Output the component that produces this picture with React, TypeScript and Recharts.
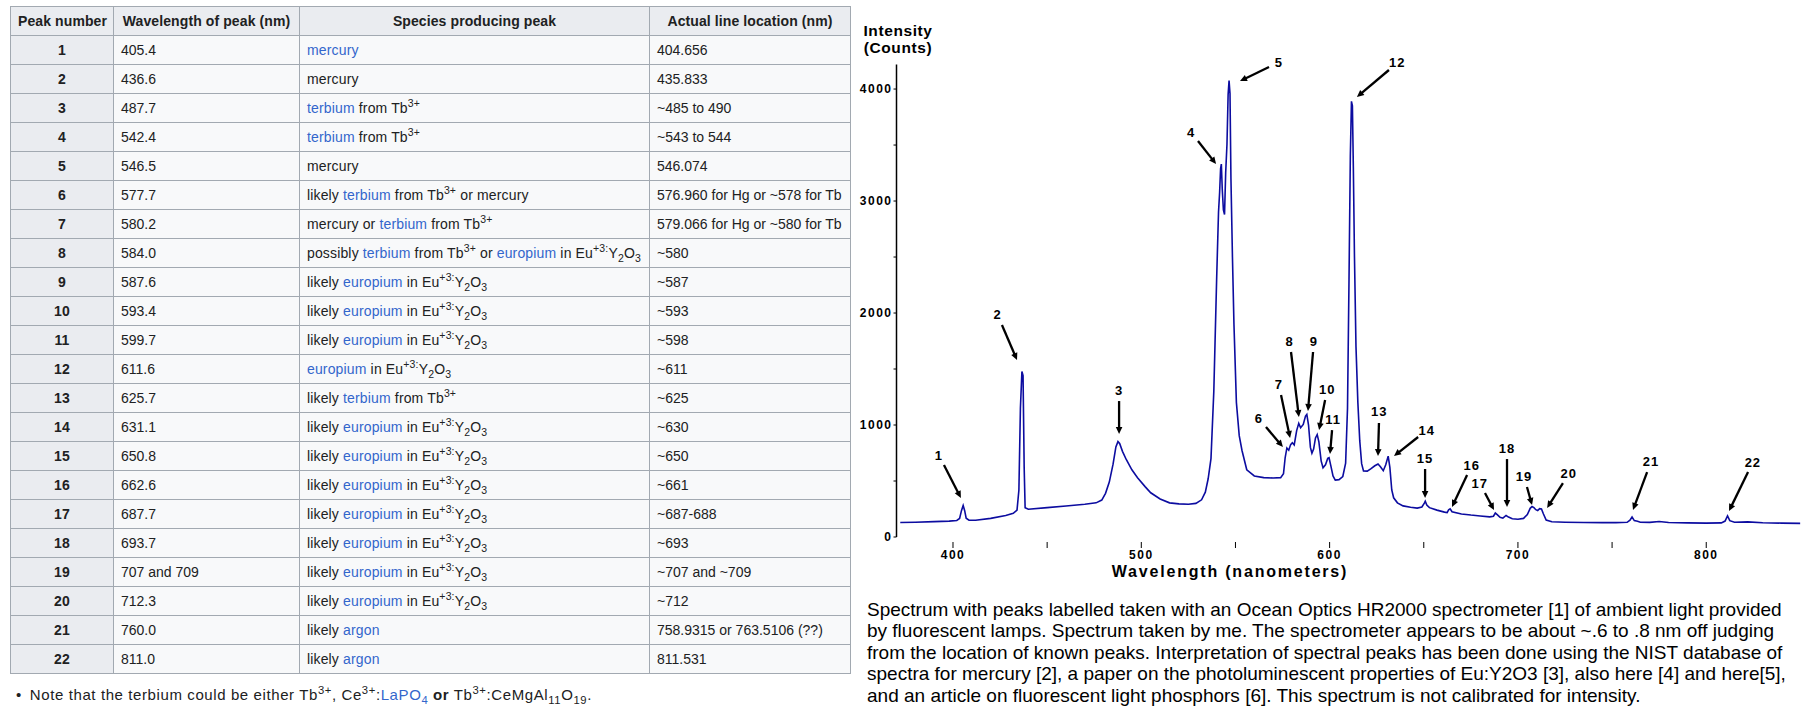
import React from "react";
import { LineChart, Line, XAxis, YAxis, ReferenceLine } from "recharts";

// spectrum (nm, counts)
const wavelengths = [
  372, 380, 390, 398, 402, 403.5, 404.5, 405.4, 406.2, 407, 408.5, 412, 420, 428, 432, 434,
  435, 435.8, 436.6, 437.2, 437.8, 438.3, 440, 450, 460, 470, 476, 479, 481, 483, 485, 486.5,
  487.6, 488.5, 490, 492, 495, 498, 502, 505, 510, 515, 520, 525, 529, 532, 534, 535.5,
  537, 538.5, 540, 541, 541.6, 542.1, 542.5, 543, 543.6, 544.2, 544.8, 545.5, 546.1, 546.6,
  547.1, 547.6, 548.4, 549.2, 550.5, 552, 553.5, 556, 560, 565, 570, 574, 575.5, 576.4,
  577.3, 578.3, 579.3, 580.2, 581.2, 582.5, 583.6, 584.6, 586, 587.2, 587.9, 588.8, 589.8, 590.6,
  591.5, 592.5, 593.4, 594.3, 595.5, 596.5, 597.8, 599, 599.7, 600.6, 601.8, 603, 605, 607,
  608.5, 609.5, 610.3, 611, 611.6, 612.1, 612.6, 613.2, 614, 615, 616, 617, 618, 620,
  622, 624, 625.7, 627, 628.5, 629.8, 631.1, 632, 633, 634, 636, 639, 643, 646.5,
  649, 650.3, 650.8, 651.6, 653, 657, 661, 662.4, 663.2, 664, 665, 670, 675, 680,
  685, 687, 688, 689, 690.5, 692, 693.7, 695, 697, 700, 703, 705, 706.5, 707.5,
  708.5, 709.5, 710.5, 711.5, 712.5, 713.5, 715, 718, 725, 735, 745, 752, 758, 759.5,
  760.6, 761.8, 763.5, 765, 770, 775, 780, 790, 800, 808, 810, 811.3, 812.5, 815,
  822, 830, 840, 850,
];
const intensities = [
  130, 132, 137, 142, 148, 165, 235, 282, 235, 168, 150, 150, 166, 192, 212, 240,
  420, 1150, 1478, 1440, 620, 262, 248, 262, 277, 292, 305, 330, 390, 490, 650, 805,
  852, 835, 765, 692, 600, 530, 450, 395, 340, 305, 296, 293, 300, 332, 400, 520,
  700, 1300, 2300, 2900, 3080, 3290, 3330, 3100, 2920, 2880, 3250, 3510, 3950, 4075,
  3960, 3200, 2500, 1900, 1200, 905, 770, 600, 545, 530, 527, 530, 565, 710,
  795, 775, 825, 842, 822, 950, 1015, 975, 1005, 1080, 1095, 1000, 800, 748,
  785, 885, 915, 850, 680, 618, 645, 702, 708, 640, 545, 508, 512, 540,
  660, 1150, 2300, 3400, 3890, 3850, 3300, 2500, 1700, 1200, 860, 655, 590, 588,
  610, 636, 652, 628, 592, 645, 722, 622, 420, 350, 305, 278, 265, 258,
  268, 302, 320, 286, 262, 240, 222, 218, 242, 252, 226, 206, 196, 188,
  180, 186, 214, 200, 176, 168, 192, 178, 163, 158, 166, 200, 256, 272,
  262, 244, 236, 253, 250, 208, 152, 136, 132, 130, 128, 128, 131, 150,
  178, 146, 140, 132, 131, 138, 130, 126, 124, 126, 142, 188, 146, 132,
  135, 127, 124, 122,
];

const xTicks = [400, 450, 500, 550, 600, 650, 700, 750, 800];
const xLabelTicks = [400, 500, 600, 700, 800];
const yTicks = [0, 500, 1000, 1500, 2000, 2500, 3000, 3500, 4000];
const yLabelTicks = [0, 1000, 2000, 3000, 4000];

// peak annotations: arrow tail and tip in (nm, counts)
const peakNames = [
  "1", "2", "3", "4", "5", "6", "7", "8", "9", "10", "11",
  "12", "13", "14", "15", "16", "17", "18", "19", "20", "21", "22",
];
const arrowTail = [
  [395.2, 643], [426.0, 1893], [488.2, 1214], [530.1, 3536], [567.8, 4196], [566.2, 982],
  [574.2, 1268], [579.5, 1652], [591.2, 1652], [597.6, 1223], [601.3, 955], [631.5, 4170],
  [626.2, 1018], [647.0, 893], [650.7, 607], [673.0, 554], [682.5, 393], [694.2, 696],
  [704.8, 446], [723.9, 482], [768.6, 580], [822.2, 580],
];
const arrowTip = [
  [404.2, 348], [434.0, 1580], [488.2, 920], [539.7, 3330], [552.4, 4071], [575.2, 804],
  [579.0, 884], [583.7, 1071], [588.5, 1125], [594.4, 955], [600.2, 741], [614.5, 3929],
  [625.7, 723], [634.2, 723], [650.7, 348], [665.0, 268], [687.3, 241], [694.2, 268],
  [707.5, 286], [715.5, 259], [761.1, 241], [812.1, 232],
];

// table
const tableHeaders = [
  "Peak number",
  "Wavelength of peak (nm)",
  "Species producing peak",
  "Actual line location (nm)",
];
const peakWavelengths = [
  "405.4", "436.6", "487.7", "542.4", "546.5", "577.7", "580.2", "584.0", "587.6", "593.4", "599.7",
  "611.6", "625.7", "631.1", "650.8", "662.6", "687.7", "693.7", "707 and 709", "712.3", "760.0", "811.0",
];
const EU = "[europium] in Eu^{+3:}Y_{2}O_{3}";
const species = [
  "[mercury]",
  "mercury",
  "[terbium] from Tb^{3+}",
  "[terbium] from Tb^{3+}",
  "mercury",
  "likely [terbium] from Tb^{3+} or mercury",
  "mercury or [terbium] from Tb^{3+}",
  "possibly [terbium] from Tb^{3+} or " + EU,
  "likely " + EU,
  "likely " + EU,
  "likely " + EU,
  EU,
  "likely [terbium] from Tb^{3+}",
  "likely " + EU,
  "likely " + EU,
  "likely " + EU,
  "likely " + EU,
  "likely " + EU,
  "likely " + EU,
  "likely " + EU,
  "likely [argon]",
  "likely [argon]",
];
const actualLines = [
  "404.656", "435.833", "~485 to 490", "~543 to 544", "546.074",
  "576.960 for Hg or ~578 for Tb", "579.066 for Hg or ~580 for Tb", "~580", "~587", "~593", "~598",
  "~611", "~625", "~630", "~650", "~661", "~687-688", "~693", "~707 and ~709", "~712",
  "758.9315 or 763.5106 (??)", "811.531",
];
const footnote =
  "Note that the terbium could be either Tb^{3+}, Ce^{3+}:[LaPO_{4}] *or* Tb^{3+}:CeMgAl_{11}O_{19}.";

const captionLines = [
  "Spectrum with peaks labelled taken with an Ocean Optics HR2000 spectrometer [1] of ambient light provided",
  "by fluorescent lamps. Spectrum taken by me. The spectrometer appears to be about ~.6 to .8 nm off judging",
  "from the location of known peaks. Interpretation of spectral peaks has been done using the NIST database of",
  "spectra for mercury [2], a paper on the photoluminescent properties of Eu:Y2O3 [3], also here [4] and here[5],",
  "and an article on fluorescent light phosphors [6]. This spectrum is not calibrated for intensity.",
];

const spectrum = wavelengths.map((wl, i) => ({ wl, intensity: intensities[i] }));

const SANS = '"Liberation Sans", Arial, sans-serif';
const LINK = "#3366cc";
const supStyle: React.CSSProperties = { fontSize: "75%", lineHeight: 0, verticalAlign: "super" };
const subStyle: React.CSSProperties = { fontSize: "75%", lineHeight: 0, verticalAlign: "sub" };

let keyCounter = 0;
function rich(s: string): React.ReactNode[] {
  const out: React.ReactNode[] = [];
  let buf = "";
  let i = 0;
  const flush = () => {
    if (buf) {
      out.push(buf);
      buf = "";
    }
  };
  while (i < s.length) {
    const c = s[i];
    if ((c === "^" || c === "_") && s[i + 1] === "{") {
      const end = s.indexOf("}", i);
      flush();
      const inner = s.slice(i + 2, end);
      out.push(
        c === "^" ? (
          <sup key={keyCounter++} style={supStyle}>{inner}</sup>
        ) : (
          <sub key={keyCounter++} style={subStyle}>{inner}</sub>
        )
      );
      i = end + 1;
    } else if (c === "[") {
      const end = s.indexOf("]", i);
      flush();
      out.push(
        <span key={keyCounter++} style={{ color: LINK }}>
          {rich(s.slice(i + 1, end))}
        </span>
      );
      i = end + 1;
    } else if (c === "*") {
      const end = s.indexOf("*", i + 1);
      flush();
      out.push(<b key={keyCounter++}>{s.slice(i + 1, end)}</b>);
      i = end + 1;
    } else {
      buf += c;
      i++;
    }
  }
  flush();
  return out;
}

const colWidths = [103, 186, 350, 201];

const cell: React.CSSProperties = {
  border: "1px solid #a2a9b1",
  padding: "0 7px",
  height: 29,
  whiteSpace: "nowrap",
  fontSize: 14,
  color: "#202122",
  background: "#f8f9fa",
  boxSizing: "border-box",
};
const speciesCell: React.CSSProperties = { ...cell, letterSpacing: 0.15 };
const headCell: React.CSSProperties = {
  ...cell,
  letterSpacing: 0.1,
  background: "#eaecf0",
  fontWeight: "bold",
  textAlign: "center",
};

function PeakTable() {
  return (
    <table
      style={{
        position: "absolute",
        left: 10,
        top: 6,
        borderCollapse: "collapse",
        tableLayout: "fixed",
        fontFamily: SANS,
        width: 840,
      }}
    >
      <colgroup>
        {colWidths.map((w, i) => (
          <col key={i} style={{ width: w }} />
        ))}
      </colgroup>
      <thead>
        <tr>
          {tableHeaders.map((h) => (
            <th key={h} style={headCell}>{h}</th>
          ))}
        </tr>
      </thead>
      <tbody>
        {peakNames.map((n, i) => (
          <tr key={n}>
            <th style={headCell}>{n}</th>
            <td style={cell}>{peakWavelengths[i]}</td>
            <td style={speciesCell}>{rich(species[i])}</td>
            <td style={cell}>{actualLines[i]}</td>
          </tr>
        ))}
      </tbody>
    </table>
  );
}

const chartFont = { fontFamily: SANS, fontWeight: "bold" as const, fill: "#000" };

function Arrow(props: any) {
  const { x1, y1, x2, y2, text } = props;
  const dx = x2 - x1;
  const dy = y2 - y1;
  const len = Math.hypot(dx, dy) || 1;
  const ux = dx / len;
  const uy = dy / len;
  const head = 7;
  const half = 3.3;
  const bx = x2 - ux * head;
  const by = y2 - uy * head;
  const pts = `${x2},${y2} ${bx - uy * half},${by + ux * half} ${bx + uy * half},${by - ux * half}`;
  return (
    <g>
      <line x1={x1} y1={y1} x2={bx + ux} y2={by + uy} stroke="#000" strokeWidth={2.3} />
      <polygon points={pts} fill="#000" />
      <text
        x={x1 - ux * 11}
        y={y1 - uy * 11}
        textAnchor="middle"
        dominantBaseline="central"
        fontSize={13}
        letterSpacing={1}
        {...chartFont}
      >
        {text}
      </text>
    </g>
  );
}

function XTick(props: any) {
  const { x, y, payload } = props;
  const v = payload.value;
  return (
    <g>
      <line x1={x} x2={x} y1={y + 5} y2={y + 11} stroke="#000" strokeWidth={1} />
      {xLabelTicks.includes(v) && (
        <text x={x} y={y + 18} textAnchor="middle" dominantBaseline="central" fontSize={12} letterSpacing={1.5} {...chartFont}>
          {v}
        </text>
      )}
    </g>
  );
}

function YTick(props: any) {
  const { x, y, payload } = props;
  const v = payload.value;
  if (!yLabelTicks.includes(v)) return <g />;
  return (
    <text x={x} y={y} textAnchor="end" dominantBaseline="central" fontSize={12} letterSpacing={1.5} {...chartFont}>
      {v}
    </text>
  );
}

function Spectrum() {
  return (
    <div style={{ position: "absolute", left: 840, top: 20, width: 961, height: 560 }}>
      <LineChart
        width={961}
        height={560}
        data={spectrum}
        margin={{ top: 44.4, right: 0.6, bottom: 13, left: 6.5 }}
      >
        <XAxis
          type="number"
          dataKey="wl"
          domain={[370, 850]}
          ticks={xTicks}
          interval={0}
          axisLine={false}
          tickLine={false}
          tickSize={0}
          tickMargin={0}
          height={30}
          tick={<XTick />}
          allowDataOverflow
        />
        <YAxis
          type="number"
          domain={[0, 4220]}
          ticks={yTicks}
          interval={0}
          width={50}
          tickSize={3}
          tickMargin={1}
          axisLine={{ stroke: "#000", strokeWidth: 1.5 }}
          tickLine={{ stroke: "#000", strokeWidth: 1 }}
          tick={<YTick />}
          allowDataOverflow
        />
        <Line
          type="linear"
          dataKey="intensity"
          stroke="#0c0ca0"
          strokeWidth={1.6}
          dot={false}
          isAnimationActive={false}
        />
        {peakNames.map((n, i) => (
          <ReferenceLine
            key={n}
            segment={[
              { x: arrowTail[i][0], y: arrowTail[i][1] },
              { x: arrowTip[i][0], y: arrowTip[i][1] },
            ]}
            ifOverflow="visible"
            shape={(p: any) => <Arrow {...p} text={n} />}
          />
        ))}
      </LineChart>
    </div>
  );
}

export default function App() {
  return (
    <div
      style={{
        position: "absolute",
        left: 0,
        top: 0,
        width: 1801,
        height: 723,
        background: "#fff",
        overflow: "hidden",
        fontFamily: SANS,
      }}
    >
      <PeakTable />
      <div
        style={{
          position: "absolute",
          left: 16,
          top: 686,
          fontSize: 15,
          letterSpacing: 0.6,
          color: "#202122",
          whiteSpace: "nowrap",
        }}
      >
        <span style={{ marginRight: 8 }}>•</span>
        {rich(footnote)}
      </div>

      <Spectrum />

      <div
        style={{
          position: "absolute",
          left: 843,
          top: 22,
          width: 110,
          textAlign: "center",
          fontWeight: "bold",
          fontSize: 15.5,
          lineHeight: "17px",
          letterSpacing: 0.6,
        }}
      >
        Intensity
        <br />
        (Counts)
      </div>
      <div
        style={{
          position: "absolute",
          left: 1080,
          top: 562,
          width: 300,
          textAlign: "center",
          fontWeight: "bold",
          fontSize: 16,
          lineHeight: "19px",
          letterSpacing: 1.8,
        }}
      >
        Wavelength (nanometers)
      </div>

      <div
        style={{
          position: "absolute",
          left: 867,
          top: 599,
          fontSize: 19,
          lineHeight: "21.4px",
          color: "#000",
          whiteSpace: "nowrap",
        }}
      >
        {captionLines.map((l, i) => (
          <div key={i}>{l}</div>
        ))}
      </div>
    </div>
  );
}
